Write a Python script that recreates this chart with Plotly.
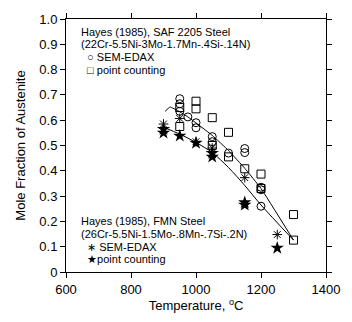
import plotly.graph_objects as go

# SAF 2205 steel, SEM-EDAX (circles)
saf_edax_T = [950, 950, 950, 975, 1000, 1000, 1050, 1050, 1100, 1150, 1150, 1200, 1200, 1200]
saf_edax_f = [0.685, 0.665, 0.635, 0.613, 0.59, 0.57, 0.535, 0.515, 0.47, 0.488, 0.472, 0.335, 0.325, 0.26]
# SAF 2205 steel, point counting (squares)
saf_pc_T = [950, 950, 1000, 1000, 1050, 1050, 1100, 1100, 1150, 1200, 1200, 1300, 1300]
saf_pc_f = [0.65, 0.575, 0.675, 0.645, 0.61, 0.50, 0.552, 0.455, 0.408, 0.387, 0.33, 0.227, 0.126]
# FMN steel, SEM-EDAX (asterisks)
fmn_edax_T = [900, 950, 1000, 1050, 1150, 1250]
fmn_edax_f = [0.585, 0.607, 0.515, 0.49, 0.373, 0.148]
# FMN steel, point counting (stars)
fmn_pc_T = [900, 900, 950, 1000, 1050, 1050, 1150, 1150, 1250]
fmn_pc_f = [0.565, 0.55, 0.538, 0.51, 0.47, 0.455, 0.275, 0.265, 0.095]
# fitted curves
saf_line_T = [905, 920, 945, 975, 1050, 1100, 1150, 1200, 1300]
saf_line_f = [0.635, 0.652, 0.637, 0.613, 0.54, 0.48, 0.41, 0.33, 0.126]
fmn_line_T = [900, 950, 1000, 1050, 1100, 1150, 1200, 1300]
fmn_line_f = [0.572, 0.545, 0.512, 0.472, 0.413, 0.342, 0.265, 0.126]

x_ticks = [600, 800, 1000, 1200, 1400]
y_ticks = [0, 0.1, 0.2, 0.3, 0.4, 0.5, 0.6, 0.7, 0.8, 0.9, 1.0]
y_tick_text = ["0", "0.1", "0.2", "0.3", "0.4", "0.5", "0.6", "0.7", "0.8", "0.9", "1.0"]

FONT = "Liberation Sans, Arial, sans-serif"

fig = go.Figure()
fig.add_trace(go.Scatter(x=saf_line_T, y=saf_line_f, mode="lines",
                         line=dict(color="black", width=1, shape="spline", smoothing=0.3)))
fig.add_trace(go.Scatter(x=fmn_line_T, y=fmn_line_f, mode="lines",
                         line=dict(color="black", width=1, shape="spline", smoothing=0.8)))
fig.add_trace(go.Scatter(x=saf_edax_T, y=saf_edax_f, mode="markers",
                         marker=dict(symbol="circle-open", size=8, color="black", line=dict(width=1))))
fig.add_trace(go.Scatter(x=saf_pc_T, y=saf_pc_f, mode="markers",
                         marker=dict(symbol="square-open", size=8, color="black", line=dict(width=1))))
fig.add_trace(go.Scatter(x=fmn_edax_T, y=fmn_edax_f, mode="markers",
                         marker=dict(symbol="asterisk-open", size=8, color="black", line=dict(width=1))))
fig.add_trace(go.Scatter(x=fmn_pc_T, y=fmn_pc_f, mode="markers",
                         marker=dict(symbol="star", size=10, color="black", line=dict(width=0))))

ann = [
    ("Hayes (1985), SAF 2205 Steel", 0.95),
    ("(22Cr-5.5Ni-3Mo-1.7Mn-.4Si-.14N)", 0.90),
    ("  ○ SEM-EDAX", 0.85),
    ("  □ point counting", 0.80),
    ("Hayes (1985), FMN Steel", 0.20),
    ("(26Cr-5.5Ni-1.5Mo-.8Mn-.7Si-.2N)", 0.15),
    ("  ∗ SEM-EDAX", 0.10),
    ("  ★point counting", 0.05),
]
for txt, yy in ann:
    fig.add_annotation(x=640, y=yy, xref="x", yref="y", text=txt, showarrow=False,
                       xanchor="left", yanchor="middle", font=dict(size=11, color="black", family=FONT))

axis_common = dict(showline=True, linecolor="black", linewidth=1, mirror="ticks",
                   ticks="outside", ticklen=5, tickcolor="black", tickwidth=1,
                   showgrid=False, zeroline=False,
                   tickfont=dict(size=13, color="black", family=FONT))
fig.update_xaxes(range=[600, 1400], tickvals=x_ticks, ticktext=[str(v) for v in x_ticks],
                 title=dict(text="Temperature, <sup>o</sup>C", standoff=4,
                            font=dict(size=13, color="black", family=FONT)), **axis_common)
fig.update_yaxes(range=[0, 1.0], tickvals=y_ticks, ticktext=y_tick_text,
                 title=dict(text="Mole Fraction of Austenite", standoff=10,
                            font=dict(size=13, color="black", family=FONT)), **axis_common)
fig.update_layout(width=352, height=322, margin=dict(l=66, r=14, t=13, b=35),
                  plot_bgcolor="white", paper_bgcolor="white", showlegend=False,
                  font=dict(family=FONT, color="black"))
fig.write_html("out.html")
